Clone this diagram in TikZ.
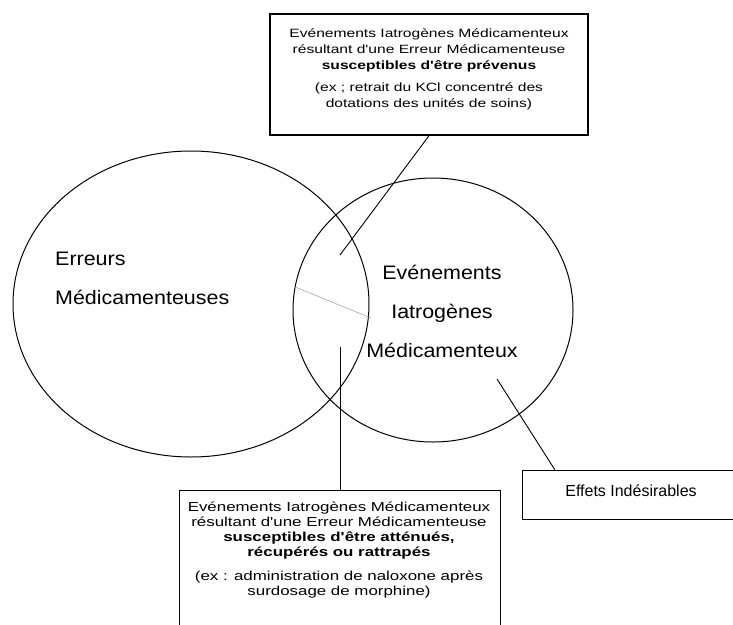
\documentclass[tikz,border=0pt]{standalone}
\usepackage{fontspec}
\setmainfont{Liberation Sans}
\newfontfamily\circfont{Liberation Sans}[FakeStretch=1.1]
\newfontfamily\boxfont{Liberation Sans}[FakeStretch=1.3]
\usetikzlibrary{calc}
\tikzstyle{venn}=[line width=1pt]
\tikzstyle{framebox}=[draw, line width=1.4pt, inner sep=0pt]
\tikzstyle{leader}=[line width=0.9pt]
\tikzstyle{faintline}=[black!35, line width=0.6pt]
\tikzstyle{circtext}=[inner sep=0pt, font={\circfont\fontsize{19.5}{39}\selectfont}]
\tikzstyle{boxtext}=[inner sep=0pt, align=center]
\begin{document}
\begin{tikzpicture}[x=1pt,y=-1pt]
  \useasboundingbox (0,0) rectangle (733,624);
  % the two sets
  \coordinate (errc) at (191,304);
  \coordinate (eimc) at (433,310);
  \draw[venn] (errc) ellipse (178 and 153);
  \draw[venn] (eimc) ellipse (140 and 132);
  \node[circtext, anchor=west, align=left] (errtext) at (55,278) {Erreurs\\Médicamenteuses};
  \node[circtext, align=center] (eimtext) at (442,311) {Evénements\\Iatrogènes\\Médicamenteux};
  % boxes
  \node[framebox, minimum width=318pt, minimum height=121pt] (prevbox) at (429,74.5) {};
  \node[boxtext, font={\boxfont\fontsize{12}{16}\selectfont}] (prevtext) at (429,69)
    {Evénements Iatrogènes Médicamenteux\\résultant d'une Erreur Médicamenteuse\\
     \textbf{susceptibles d'être prévenus}\\[6pt]
     (ex ; retrait du KCl concentré des\\dotations des unités de soins)};
  \node[framebox, minimum width=321pt, minimum height=140pt, anchor=north] (attbox) at (340,490) {};
  \node[boxtext, font={\boxfont\fontsize{13}{15}\selectfont}] (atttext) at (339,550.5)
    {Evénements Iatrogènes Médicamenteux\\résultant d'une Erreur Médicamenteuse\\
     \textbf{susceptibles d'être atténués,}\\\textbf{récupérés ou rattrapés}\\[9pt]
     (ex : administration de naloxone après\\surdosage de morphine)};
  \node[framebox, minimum width=220pt, minimum height=49pt, anchor=north west] (effbox) at (522,470) {};
  \node[font=\fontsize{16}{19}\selectfont] (efftext) at (631,491) {Effets Indésirables};
  % leaders
  \coordinate (prevpt) at (340,255);
  \coordinate (attpt) at (340,347);
  \coordinate (effpt) at (497,379);
  \coordinate (faintA) at (295,287);
  \coordinate (faintB) at (371,318);
  \draw[leader] (prevbox.south) -- (prevpt);
  \draw[leader] (attbox.north) -- (attpt);
  \draw[leader] (effpt) -- ($(effbox.north west)+(33,0)$);
  \draw[faintline] (faintA) -- (faintB);
\end{tikzpicture}
\end{document}
